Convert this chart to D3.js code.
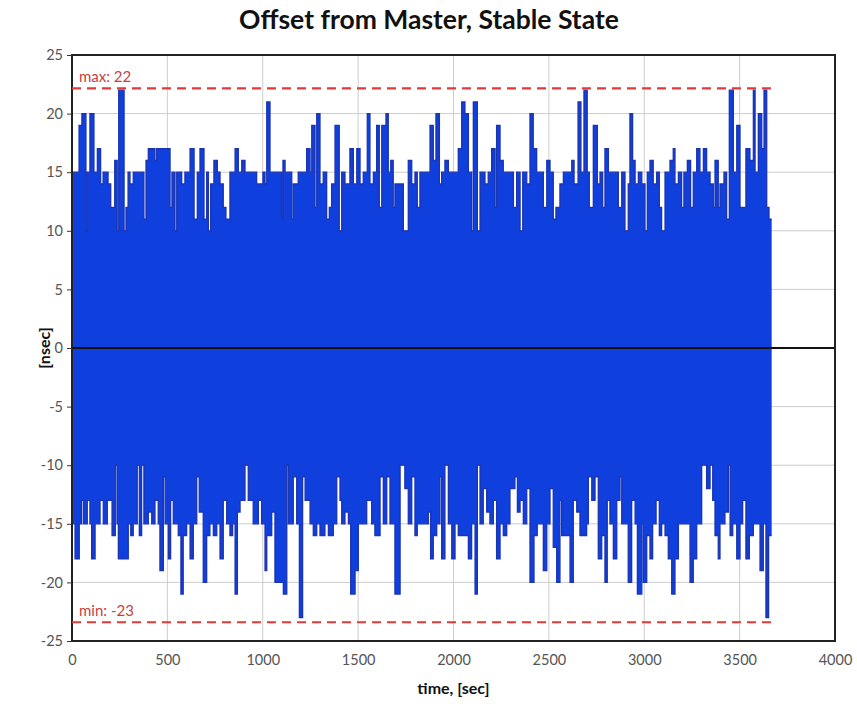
<!DOCTYPE html>
<html><head><meta charset="utf-8">
<script src="https://cdn.jsdelivr.net/npm/d3@7"></script>
<style>body{margin:0;background:#fff;} svg{display:block;font-family:Lato,"Open Sans",sans-serif;}</style>
</head><body><svg id="c" width="857" height="704"></svg>
<script>
const title = "Offset from Master, Stable State";
const xLabel = "time, [sec]";
const yLabel = "[nsec]";
const xTicks = [0,500,1000,1500,2000,2500,3000,3500,4000];
const yTicks = [-25,-20,-15,-10,-5,0,5,10,15,20,25];
const endTime = 3668;

// upper envelope of the oscillating offset series (step starts in sec, value in nsec)
const upperT = [0,37,52,73,80,94,115,133,150,163,189,203,224,237,245,273,283,294,304,321,377,388,400,435,444,514,524,540,549,575,592,619,640,657,671,692,706,715,727,744,762,776,793,807,828,855,872,890,907,968,1001,1012,1021,1038,1099,1106,1117,1152,1160,1186,1230,1248,1257,1274,1283,1300,1317,1335,1349,1361,1379,1401,1414,1431,1457,1475,1493,1510,1527,1548,1562,1580,1597,1611,1624,1646,1658,1671,1684,1693,1737,1763,1781,1798,1810,1824,1877,1894,1908,1926,1938,1955,1973,2025,2043,2060,2078,2095,2104,2125,2139,2165,2182,2200,2218,2226,2244,2261,2314,2331,2349,2363,2384,2401,2418,2436,2471,2489,2506,2523,2537,2558,2576,2620,2632,2653,2668,2684,2701,2712,2733,2754,2768,2782,2794,2812,2864,2882,2899,2916,2925,2939,2952,2969,2987,3004,3016,3030,3047,3065,3079,3091,3109,3135,3152,3161,3179,3196,3208,3226,3243,3257,3275,3292,3310,3327,3345,3362,3371,3388,3397,3418,3432,3446,3467,3485,3502,3533,3554,3572,3581,3598,3616,3628,3642,3654];
const upperV = [15,19,20,10,15,20,15,17,14,15,14,12,16,10,22,10,12,15,14,15,11,16,17,16,17,12,15,10,15,14,15,17,11,15,17,11,15,10,14,16,15,14,12,11,15,17,15,16,15,14,15,14,21,15,11,16,15,11,14,15,17,15,19,12,20,14,15,11,12,14,19,10,15,14,17,14,17,14,15,20,14,15,19,12,19,20,15,16,12,14,10,16,14,15,12,15,19,16,20,14,15,16,15,17,21,20,15,10,21,10,15,14,15,17,12,19,16,15,12,15,10,15,14,20,17,15,12,16,15,11,12,14,15,16,14,21,15,22,15,12,19,14,15,12,17,15,12,15,10,14,20,16,14,15,14,10,15,16,14,15,12,10,15,16,17,14,15,12,15,16,12,15,17,15,17,15,14,12,16,12,14,15,11,22,15,19,12,17,16,22,15,20,17,22,12,11];

// lower envelope
const lowerT = [0,16,38,49,59,80,94,103,121,147,164,185,210,227,236,243,295,308,321,342,353,365,377,400,418,435,452,461,479,488,505,517,531,557,571,583,601,619,636,654,667,688,706,723,741,759,776,793,811,828,842,855,867,881,907,924,950,977,994,1012,1021,1047,1064,1108,1126,1134,1160,1178,1192,1209,1222,1248,1265,1283,1300,1326,1344,1370,1388,1405,1414,1431,1449,1461,1484,1501,1545,1571,1588,1615,1632,1650,1667,1693,1720,1745,1763,1781,1798,1810,1868,1880,1894,1912,1929,1938,1955,1973,1991,2008,2025,2078,2095,2113,2125,2139,2156,2174,2191,2209,2226,2244,2261,2279,2296,2322,2335,2349,2366,2384,2401,2422,2439,2471,2489,2506,2523,2541,2558,2567,2611,2628,2646,2663,2698,2707,2725,2742,2759,2777,2794,2806,2820,2838,2856,2873,2882,2916,2934,2952,2964,2987,2995,3013,3030,3044,3062,3079,3091,3109,3126,3144,3161,3179,3240,3257,3275,3301,3327,3345,3359,3371,3388,3397,3423,3441,3450,3464,3485,3502,3516,3533,3551,3572,3607,3624,3638,3652];
const lowerV = [-15,-18,-15,-13,-15,-13,-15,-18,-15,-13,-15,-13,-16,-10,-15,-18,-15,-16,-15,-10,-16,-10,-15,-14,-15,-13,-15,-19,-11,-15,-18,-13,-15,-16,-21,-16,-15,-18,-15,-11,-14,-20,-16,-15,-16,-15,-18,-13,-15,-16,-15,-21,-14,-13,-10,-13,-15,-13,-15,-19,-16,-14,-20,-21,-10,-15,-11,-15,-23,-11,-13,-15,-16,-15,-16,-15,-16,-15,-11,-13,-15,-14,-15,-21,-19,-15,-13,-15,-16,-11,-15,-11,-15,-21,-10,-12,-15,-11,-16,-15,-14,-18,-16,-15,-11,-18,-10,-15,-18,-15,-16,-18,-15,-21,-10,-15,-12,-14,-15,-13,-18,-15,-16,-15,-12,-11,-14,-13,-15,-12,-20,-16,-15,-19,-15,-12,-17,-20,-13,-16,-20,-13,-14,-16,-15,-11,-13,-11,-18,-16,-20,-13,-15,-18,-13,-11,-15,-20,-13,-15,-21,-15,-20,-16,-18,-15,-13,-16,-15,-16,-18,-21,-18,-15,-20,-18,-15,-10,-12,-10,-13,-16,-18,-15,-14,-10,-16,-15,-18,-15,-13,-18,-16,-15,-19,-15,-23,-16];

const refValues = [22.15, -23.4];
const refLabels = ["max: 22", "min: -23"];
const refEnd = 3680;

const svg = d3.select("#c");
const L = 72, R = 835, T = 55, B = 641;
const x = d3.scaleLinear().domain([0, 4000]).range([L, R]);
const y = d3.scaleLinear().domain([-25, 25]).range([B, T]);

// grid
svg.append("g").selectAll("line").data(xTicks.slice(1, -1)).join("line")
  .attr("x1", d => x(d)).attr("x2", d => x(d)).attr("y1", T).attr("y2", B)
  .attr("stroke", "#cdcdcd").attr("stroke-width", 1);
svg.append("g").selectAll("line").data(yTicks.filter(v => v !== 0 && v !== 25 && v !== -25)).join("line")
  .attr("x1", L).attr("x2", R).attr("y1", d => y(d)).attr("y2", d => y(d))
  .attr("stroke", "#cdcdcd").attr("stroke-width", 1);

const up = upperT.map((t, i) => [t, upperV[i]]).concat([[endTime, upperV[upperV.length - 1]]]);
const lo = lowerT.map((t, i) => [t, lowerV[i]]).concat([[endTime, lowerV[lowerV.length - 1]]]);

const blue = "#0f3fdc", edge = "#1c34b0";
const area = d3.area().x(d => x(d[0])).y0(y(0)).y1(d => y(d[1])).curve(d3.curveStepAfter);
const line = d3.line().x(d => x(d[0])).y(d => y(d[1])).curve(d3.curveStepAfter);
[up, lo].forEach(s => {
  svg.append("path").datum(s).attr("d", area).attr("fill", blue);
  svg.append("path").datum(s).attr("d", line).attr("fill", "none").attr("stroke", edge).attr("stroke-width", 1.3);
});

// zero line
svg.append("line").attr("x1", L).attr("x2", R).attr("y1", y(0)).attr("y2", y(0))
  .attr("stroke", "#111").attr("stroke-width", 2);

// frame
svg.append("rect").attr("x", L).attr("y", T).attr("width", R - L).attr("height", B - T)
  .attr("fill", "none").attr("stroke", "#222").attr("stroke-width", 2);

// reference lines
refValues.forEach((v, i) => {
  svg.append("line").attr("x1", x(0)).attr("x2", x(refEnd)).attr("y1", y(v)).attr("y2", y(v))
    .attr("stroke", "#e03a3a").attr("stroke-width", 2.2).attr("stroke-dasharray", "9,6");
  svg.append("text").attr("x", 79).attr("y", y(v) - 6).text(refLabels[i])
    .attr("fill", "#c8413f").attr("font-size", 15);
});

// axes
const yAxis = d3.axisLeft(y).tickValues(yTicks).tickFormat(d => String(d)).tickSize(5).tickPadding(4);
const gy = svg.append("g").attr("transform", `translate(${L},0)`).call(yAxis);
gy.select(".domain").remove();
gy.selectAll("line").attr("stroke", "#333");
gy.selectAll("text").attr("fill", "#555").attr("font-size", 14.5).attr("font-family", "Lato, sans-serif");

const xAxis = d3.axisBottom(x).tickValues(xTicks).tickFormat(d => String(d)).tickSize(0).tickPadding(14);
const gx = svg.append("g").attr("transform", `translate(0,${B})`).call(xAxis);
gx.select(".domain").remove();
gx.selectAll("text").attr("fill", "#555").attr("font-size", 14.5).attr("font-family", "Lato, sans-serif");

// labels
svg.append("text").attr("x", 429).attr("y", 29).attr("text-anchor", "middle")
  .attr("font-size", 26.5).attr("font-weight", "bold").attr("fill", "#111").text(title);
svg.append("text").attr("x", (L + R) / 2).attr("y", 694).attr("text-anchor", "middle")
  .attr("font-size", 16).attr("font-weight", "bold").attr("fill", "#111").text(xLabel);
svg.append("text").attr("transform", `translate(50,${y(0)}) rotate(-90)`).attr("text-anchor", "middle")
  .attr("font-size", 16).attr("font-weight", "bold").attr("fill", "#111").text(yLabel);
</script></body></html>
